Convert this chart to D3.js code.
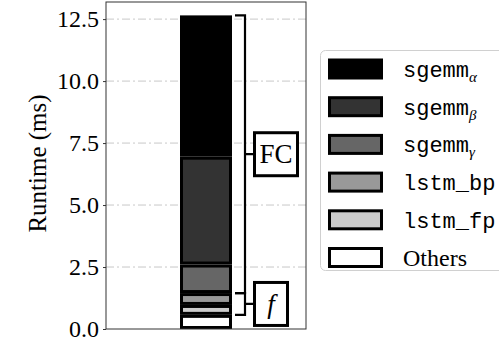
<!DOCTYPE html>
<html><head><meta charset="utf-8">
<script src="https://cdn.jsdelivr.net/npm/d3@7/dist/d3.min.js"></script>
<style>body{margin:0;background:#fff}svg{display:block}</style>
</head><body><svg id="c" width="499" height="342"></svg>
<script>
// Data (bottom to top of the stacked bar)
const categories = ["Others", "lstm_fp", "lstm_bp", "sgemm_γ", "sgemm_β", "sgemm_α"];
const values = [0.57, 0.40, 0.48, 1.15, 4.35, 5.70];
const fills = ["#ffffff", "#cccccc", "#999999", "#666666", "#333333", "#000000"];
const yTicks = [0, 2.5, 5, 7.5, 10, 12.5];
const legendOrder = ["sgemm_α", "sgemm_β", "sgemm_γ", "lstm_bp", "lstm_fp", "Others"];
const groups = [ {label: "FC", from: "sgemm_γ", to: "sgemm_α"}, {label: "f", from: "lstm_fp", to: "lstm_bp"} ];

const svg = d3.select("#c");
const L = 106, R = 306, T = 2, B = 329;
const y = d3.scaleLinear().domain([0, 13.19]).range([B, T]);
const x = d3.scaleLinear().domain([-1, 1]).range([L, R]);
const barW = 0.52;

// grid
svg.append("g").selectAll("line").data(yTicks.filter(d => d > 0)).join("line")
  .attr("x1", L).attr("x2", R).attr("y1", d => y(d)).attr("y2", d => y(d))
  .attr("stroke", "#c8c8c8").attr("stroke-width", 1).attr("stroke-dasharray", "8,3,2,3");

// stacked bar
let acc = 0;
const segs = values.map((v, i) => { const s = {name: categories[i], y0: acc, y1: acc + v, fill: fills[i]}; acc += v; return s; });
svg.append("g").selectAll("rect").data(segs).join("rect")
  .attr("x", x(0 - barW / 2) + 1.5).attr("width", x(barW / 2) - x(-barW / 2) - 3)
  .attr("y", d => y(d.y1) + 1.5).attr("height", d => y(d.y0) - y(d.y1) - 3)
  .attr("fill", d => d.fill).attr("stroke", "#000").attr("stroke-width", 3);

// brackets
const bx0 = x(barW / 2) + 3, bx1 = bx0 + 10, boxX = 253;
groups.forEach(g => {
  const lo = segs.find(s => s.name === g.from).y0, hi = segs.find(s => s.name === g.to).y1;
  const yt = y(hi), yb = y(lo), ym = (yt + yb) / 2;
  const gg = svg.append("g").attr("fill", "none").attr("stroke", "#000").attr("stroke-width", 2.2);
  gg.append("path").attr("d", `M${bx0},${yt}H${bx1}V${yb}H${bx0}M${bx1},${ym}H${boxX}`);
  const w = g.label === "FC" ? 43 : 33, h = g.label === "FC" ? 43 : 43;
  gg.append("rect").attr("x", boxX + 1.5).attr("y", ym - h / 2).attr("width", w).attr("height", h)
    .attr("fill", "#fff").attr("stroke-width", 3);
  svg.append("text").attr("x", boxX + 1.5 + w / 2).attr("y", ym + 9).attr("text-anchor", "middle")
    .attr("font-family", "Liberation Serif").attr("font-size", 27)
    .attr("font-style", g.label === "f" ? "italic" : "normal").text(g.label);
});

// axes frame
svg.append("rect").attr("x", L).attr("y", T).attr("width", R - L).attr("height", B - T)
  .attr("fill", "none").attr("stroke", "#333").attr("stroke-width", 1);
const ax = svg.append("g").attr("transform", `translate(${L},0)`)
  .call(d3.axisLeft(y).tickValues(yTicks).tickFormat(d3.format(".1f")).tickSize(3).tickPadding(4));
ax.select(".domain").remove();
ax.selectAll("text").attr("font-family", "Liberation Serif").attr("font-size", 24).attr("fill", "#000");
ax.selectAll("line").attr("stroke", "#333");

svg.append("text").attr("transform", `translate(46,${(T + B) / 2 - 2}) rotate(-90)`)
  .attr("text-anchor", "middle").attr("font-family", "Liberation Serif").attr("font-size", 25).text("Runtime (ms)");

// legend
const lg = svg.append("g");
lg.append("rect").attr("x", 320.5).attr("y", 50.5).attr("width", 200).attr("height", 220).attr("rx", 5)
  .attr("fill", "#fff").attr("stroke", "#d0d0d0").attr("stroke-width", 1);
const fillOf = n => fills[categories.indexOf(n)];
legendOrder.forEach((n, i) => {
  const cy = 69 + i * 37.7;
  lg.append("rect").attr("x", 329.5).attr("y", cy - 9).attr("width", 52).attr("height", 18)
    .attr("fill", fillOf(n)).attr("stroke", "#000").attr("stroke-width", 3);
  const t = lg.append("text").attr("x", 403).attr("y", cy + 8).attr("font-size", 22);
  if (n.startsWith("sgemm_")) {
    t.append("tspan").attr("font-family", "Liberation Mono").text("sgemm");
    t.append("tspan").attr("font-family", "Liberation Serif").attr("font-style", "italic")
      .attr("font-size", 15).attr("dy", 5).text(n.slice(6));
  } else if (n === "Others") {
    t.attr("font-family", "Liberation Serif").attr("font-size", 24).text(n);
  } else {
    t.attr("font-family", "Liberation Mono").text(n);
  }
});
</script></body></html>
